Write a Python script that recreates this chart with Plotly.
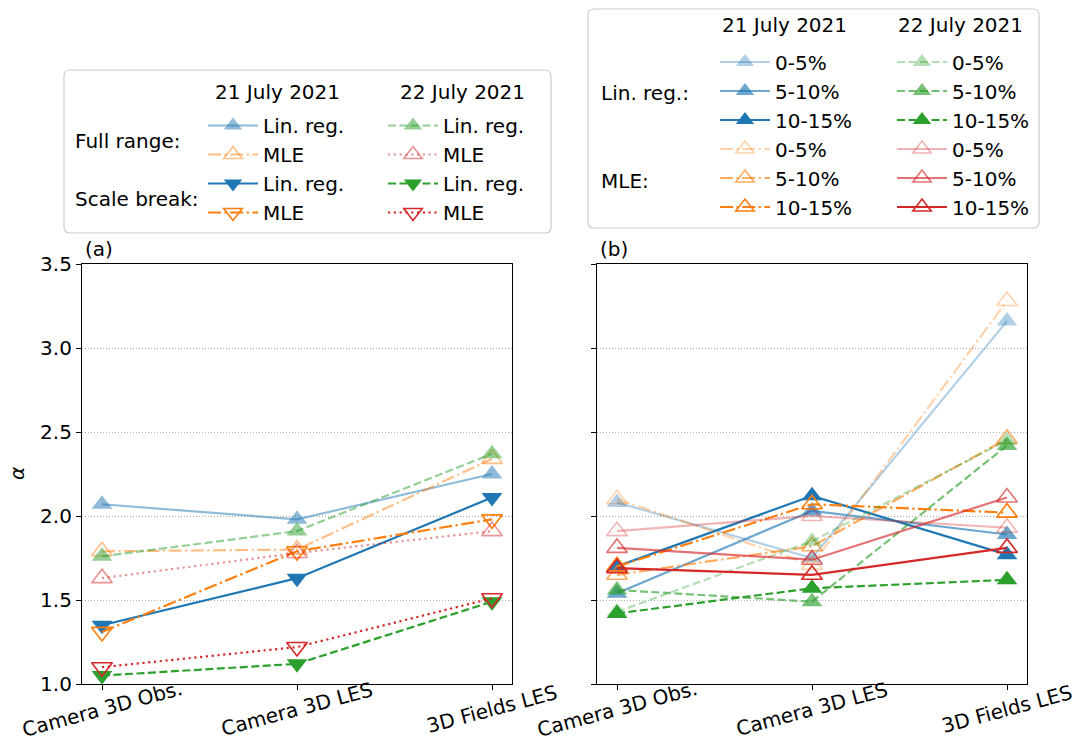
import plotly.graph_objects as go

# ---- data ---------------------------------------------------------------
categories = ["Camera 3D Obs.", "Camera 3D LES", "3D Fields LES"]

# panel (a): full range vs. scale break
a_jul21_full_linreg = [2.07, 1.98, 2.25]
a_jul21_full_mle = [1.79, 1.80, 2.34]
a_jul22_full_linreg = [1.76, 1.91, 2.37]
a_jul22_full_mle = [1.63, 1.78, 1.91]
a_jul21_break_linreg = [1.35, 1.63, 2.11]
a_jul21_break_mle = [1.31, 1.79, 1.98]
a_jul22_break_linreg = [1.05, 1.12, 1.49]
a_jul22_break_mle = [1.10, 1.22, 1.51]

# panel (b): fit ranges
b_jul21_linreg_0_5 = [2.08, 1.75, 3.16]
b_jul21_linreg_5_10 = [1.54, 2.03, 1.89]
b_jul21_linreg_10_15 = [1.70, 2.12, 1.77]
b_jul21_mle_0_5 = [2.10, 1.71, 3.28]
b_jul21_mle_5_10 = [1.65, 1.82, 2.46]
b_jul21_mle_10_15 = [1.70, 2.07, 2.02]
b_jul22_linreg_0_5 = [1.43, 1.85, 2.45]
b_jul22_linreg_5_10 = [1.56, 1.49, 2.42]
b_jul22_linreg_10_15 = [1.42, 1.57, 1.62]
b_jul22_mle_0_5 = [1.91, 2.00, 1.93]
b_jul22_mle_5_10 = [1.81, 1.74, 2.11]
b_jul22_mle_10_15 = [1.69, 1.65, 1.81]

yticks = [1.0, 1.5, 2.0, 2.5, 3.0, 3.5]
range_labels = ["0-5%", "5-10%", "10-15%"]
day_labels = ["21 July 2021", "22 July 2021"]

# ---- styling helpers ----------------------------------------------------
W, H = 1089, 744
FONT = "DejaVu Sans"
FS = 20

BLUE = (31, 119, 180)
ORANGE = (255, 127, 14)
GREEN = (44, 160, 44)
RED = (214, 39, 40)

DASH = "8px,3.5px"
DOT = "2.2px,3.6px"
DASHDOT = "13px,3.5px,2.2px,3.5px"


def rgba(c, a):
    return f"rgba({c[0]},{c[1]},{c[2]},{a})"


def px(x):
    return x / W


def py(y):
    return 1 - y / H


x_idx = list(range(len(categories)))
fig = go.Figure()


def add_series(vals, xaxis, yaxis, color, alpha, dash, symbol, name, legend):
    col = rgba(color, alpha)
    filled = not symbol.endswith("-open")
    fig.add_trace(go.Scatter(
        x=x_idx, y=vals, xaxis=xaxis, yaxis=yaxis,
        mode="lines+markers", name=name, legend=legend,
        line=dict(color=col, width=2.2, dash=dash),
        marker=dict(symbol=symbol, size=18, color=col,
                    line=dict(color=col, width=0 if filled else 1.6)),
        hoverinfo="skip",
    ))


# panel (a)
LA = 0.5
add_series(a_jul21_full_linreg, "x", "y", BLUE, LA, "solid", "triangle-up", "Lin. reg.", "legend")
add_series(a_jul21_full_mle, "x", "y", ORANGE, LA, DASHDOT, "triangle-up-open", "MLE", "legend")
add_series(a_jul21_break_linreg, "x", "y", BLUE, 1, "solid", "triangle-down", "Lin. reg.", "legend")
add_series(a_jul21_break_mle, "x", "y", ORANGE, 1, DASHDOT, "triangle-down-open", "MLE", "legend")
add_series(a_jul22_full_linreg, "x", "y", GREEN, LA, DASH, "triangle-up", "Lin. reg.", "legend2")
add_series(a_jul22_full_mle, "x", "y", RED, LA, DOT, "triangle-up-open", "MLE", "legend2")
add_series(a_jul22_break_linreg, "x", "y", GREEN, 1, DASH, "triangle-down", "Lin. reg.", "legend2")
add_series(a_jul22_break_mle, "x", "y", RED, 1, DOT, "triangle-down-open", "MLE", "legend2")

# panel (b)
alphas = [0.35, 0.65, 1.0]
for vals, a, lab in zip([b_jul21_linreg_0_5, b_jul21_linreg_5_10, b_jul21_linreg_10_15], alphas, range_labels):
    add_series(vals, "x2", "y2", BLUE, a, "solid", "triangle-up", lab, "legend3")
for vals, a, lab in zip([b_jul21_mle_0_5, b_jul21_mle_5_10, b_jul21_mle_10_15], alphas, range_labels):
    add_series(vals, "x2", "y2", ORANGE, a, DASHDOT, "triangle-up-open", lab, "legend3")
for vals, a, lab in zip([b_jul22_linreg_0_5, b_jul22_linreg_5_10, b_jul22_linreg_10_15], alphas, range_labels):
    add_series(vals, "x2", "y2", GREEN, a, DASH, "triangle-up", lab, "legend4")
for vals, a, lab in zip([b_jul22_mle_0_5, b_jul22_mle_5_10, b_jul22_mle_10_15], alphas, range_labels):
    add_series(vals, "x2", "y2", RED, a, "solid", "triangle-up-open", lab, "legend4")

# ---- axes ---------------------------------------------------------------
ax_top, ax_bot = 264, 684
dom_y = [py(ax_bot), py(ax_top)]
xrange_ = [-20 / 195, 2 + 20 / 195]

common_x = dict(range=xrange_, tickmode="array", tickvals=x_idx, showticklabels=False,
                ticks="outside", ticklen=5, tickwidth=1.2, tickcolor="black",
                showline=True, linecolor="black", linewidth=1.2, mirror=True,
                showgrid=False, zeroline=False, fixedrange=True)
common_y = dict(range=[1.0, 3.5], tickmode="array", tickvals=yticks,
                ticktext=[f"{v:.1f}" for v in yticks],
                ticks="outside", ticklen=5, tickwidth=1.2, tickcolor="black",
                showline=True, linecolor="black", linewidth=1.2, mirror=True,
                showgrid=True, gridcolor="#b0b0b0", gridwidth=1, griddash="1px,2px",
                zeroline=False, fixedrange=True)

fig.update_layout(
    xaxis=dict(domain=[px(82), px(512)], anchor="y", **common_x),
    yaxis=dict(domain=dom_y, anchor="x", tickfont=dict(family=FONT, size=FS, color="black"),
               **common_y),
    xaxis2=dict(domain=[px(597), px(1027)], anchor="y2", **common_x),
    yaxis2=dict(domain=dom_y, anchor="x2", showticklabels=False, **common_y),
)

# ---- annotations --------------------------------------------------------
ann = []


def text(t, x, y, xanchor="left", yanchor="middle", xref="paper", angle=0):
    ann.append(dict(text=t, xref=xref, yref="paper", x=x, y=py(y),
                    xanchor=xanchor, yanchor=yanchor, textangle=angle, showarrow=False,
                    font=dict(family=FONT, size=FS, color="black")))


# category labels under both panels
for xa in ("x", "x2"):
    for i, lab in enumerate(categories):
        text(lab, i, 709, xanchor="center", xref=xa, angle=-15)

text("<i>α</i>", px(17), 474, xanchor="center", angle=-90)
text("(a)", px(83), ax_top - 1, yanchor="bottom")
text("(b)", px(598), ax_top - 1, yanchor="bottom")

# legend column and row headers
text(day_labels[0], px(213), 92)
text(day_labels[1], px(398), 92)
text(day_labels[0], px(720), 25)
text(day_labels[1], px(896), 25)
text("Full range:", px(73), 141)
text("Scale break:", px(73), 199)
text("Lin. reg.:", px(599), 93)
text("MLE:", px(599), 181)
fig.update_layout(annotations=ann)


# ---- legend frames (rounded boxes) -------------------------------------
def rounded_box(x0, y0, x1, y1, r=6):
    X = lambda v: px(v)
    Y = lambda v: py(v)
    return (f"M {X(x0 + r)} {Y(y0)} L {X(x1 - r)} {Y(y0)} Q {X(x1)} {Y(y0)} {X(x1)} {Y(y0 + r)} "
            f"L {X(x1)} {Y(y1 - r)} Q {X(x1)} {Y(y1)} {X(x1 - r)} {Y(y1)} "
            f"L {X(x0 + r)} {Y(y1)} Q {X(x0)} {Y(y1)} {X(x0)} {Y(y1 - r)} "
            f"L {X(x0)} {Y(y0 + r)} Q {X(x0)} {Y(y0)} {X(x0 + r)} {Y(y0)} Z")


fig.update_layout(shapes=[
    dict(type="path", path=rounded_box(64, 70, 551, 233), xref="paper", yref="paper",
         line=dict(color="#cccccc", width=1.2), fillcolor="rgba(255,255,255,0.8)", layer="below"),
    dict(type="path", path=rounded_box(588, 9, 1039, 228), xref="paper", yref="paper",
         line=dict(color="#cccccc", width=1.2), fillcolor="rgba(255,255,255,0.8)", layer="below"),
])


# ---- legends -------------------------------------------------------------
def legend_cfg(x, y):
    return dict(x=px(x), y=py(y), xanchor="left", yanchor="top", xref="paper", yref="paper",
                bgcolor="rgba(0,0,0,0)", borderwidth=0, itemwidth=50,
                font=dict(family=FONT, size=FS, color="black"), tracegroupgap=0,
                itemclick=False, itemdoubleclick=False)


fig.update_layout(
    legend=legend_cfg(203, 106),
    legend2=legend_cfg(383, 106),
    legend3=legend_cfg(715, 42.5),
    legend4=legend_cfg(892, 42.5),
    width=W, height=H, margin=dict(l=0, r=0, t=0, b=0, autoexpand=False),
    paper_bgcolor="white", plot_bgcolor="white",
    font=dict(family=FONT, size=FS, color="black"),
)

fig.write_html("out.html")
